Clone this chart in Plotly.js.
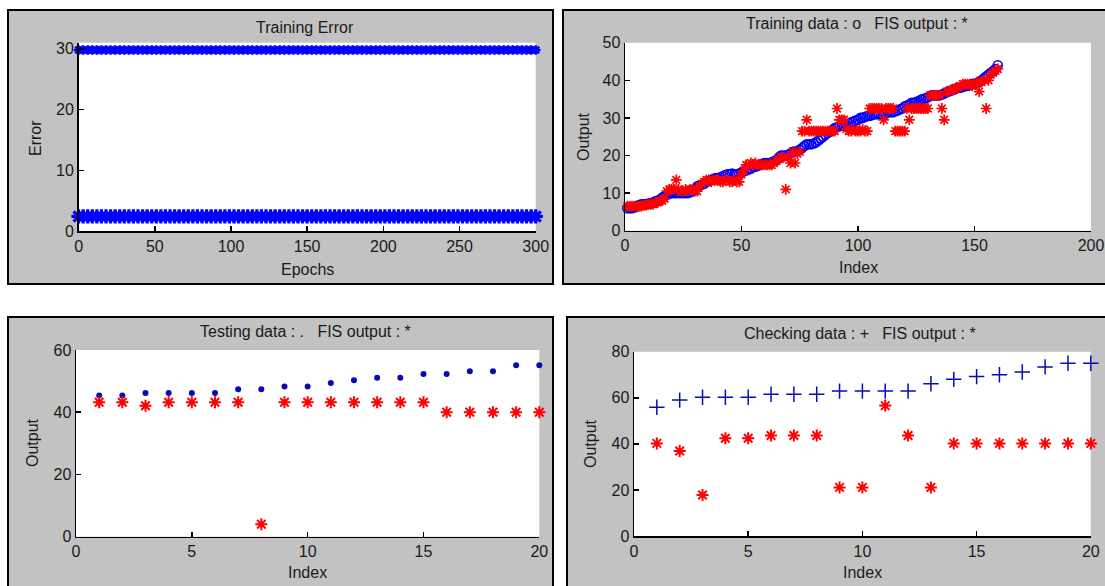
<!DOCTYPE html>
<html>
<head>
<meta charset="utf-8">
<script src="https://cdn.plot.ly/plotly-3.0.1.min.js"></script>
<style>
  html, body { margin: 0; padding: 0; background: #ffffff; }
  #chart { width: 1105px; height: 586px; }
</style>
</head>
<body>
<div id="chart"></div>
<script>
// ---------------- DATA ----------------
// Panel 1: Training Error (epochs sampled every 3)
const epochStep = 3;
const epochs = Array.from({length: 101}, (_, i) => i * epochStep);
const checkError = [29.8,29.8,29.8,29.8,29.8,29.8,29.8,29.8,29.8,29.8,29.8,29.8,29.8,29.8,29.8,29.8,29.8,29.8,29.8,29.8,
  29.8,29.8,29.8,29.8,29.8,29.8,29.8,29.8,29.8,29.8,29.8,29.8,29.8,29.8,29.8,29.8,29.8,29.8,29.8,29.8,
  29.8,29.8,29.8,29.8,29.8,29.8,29.8,29.8,29.8,29.8,29.8,29.8,29.8,29.8,29.8,29.8,29.8,29.8,29.8,29.8,
  29.8,29.8,29.8,29.8,29.8,29.8,29.8,29.8,29.8,29.8,29.8,29.8,29.8,29.8,29.8,29.8,29.8,29.8,29.8,29.8,
  29.8,29.8,29.8,29.8,29.8,29.8,29.8,29.8,29.8,29.8,29.8,29.8,29.8,29.8,29.8,29.8,29.8,29.8,29.8,29.8,29.8];
const trainError = [2.4,2.4,2.4,2.4,2.4,2.4,2.4,2.4,2.4,2.4,2.4,2.4,2.4,2.4,2.4,2.4,2.4,2.4,2.4,2.4,
  2.4,2.4,2.4,2.4,2.4,2.4,2.4,2.4,2.4,2.4,2.4,2.4,2.4,2.4,2.4,2.4,2.4,2.4,2.4,2.4,
  2.4,2.4,2.4,2.4,2.4,2.4,2.4,2.4,2.4,2.4,2.4,2.4,2.4,2.4,2.4,2.4,2.4,2.4,2.4,2.4,
  2.4,2.4,2.4,2.4,2.4,2.4,2.4,2.4,2.4,2.4,2.4,2.4,2.4,2.4,2.4,2.4,2.4,2.4,2.4,2.4,
  2.4,2.4,2.4,2.4,2.4,2.4,2.4,2.4,2.4,2.4,2.4,2.4,2.4,2.4,2.4,2.4,2.4,2.4,2.4,2.4,2.4];

// Panel 2: Training data (o) and FIS output (*), index 1..160
const trainIndex = Array.from({length: 160}, (_, i) => i + 1);
const trainData = [
  6.0,6.0,6.0,6.2,
  6.5,6.8,7.0,7.0,7.0,7.2,
  7.3,7.5,7.8,8.0,8.3,
  8.8,9.2,9.6,
  9.8,10,10,10,10,10,10,10,10,10.2,10.5,11,
  11.8,12,12.3,12.5,13,
  13.2,13.5,13.8,14,14,14.2,14.5,14.8,15,15,15.2,15,15,15.2,15.5,
  15.8,16,16.3,16.5,17,
  17,17.3,17.5,17.8,18,18,18,18.2,18.5,18.8,
  19.5,20,20,20,20.2,
  20.5,21,21,21.2,21.5,
  22,22.5,23,23,23,
  23.2,23.5,24,24.5,25,
  25.5,26,26.3,26.8,27.3,
  27.5,27.8,28,28,28.2,
  28.5,28.8,29,29.3,29.5,
  30,30,30.3,30.5,30.5,30.8,31,31,31,31,
  31,31.2,31.5,31.5,31.5,31.8,32,32.3,32.5,33,
  33.3,33.5,34,34,34.2,34.5,34.8,35,35.2,35.5,
  35.8,36,36,36,36,
  36.2,36.5,36.8,37,37.3,37.5,37.8,38,38,38.2,
  38.5,38.5,38.8,39,39,39.2,39.5,
  40,40.5,41,41.5,42,42.5,43,44];
const trainFis = [
  6.5,6.5,6.5,6.5,6.5,6.5,6.5,6.8,6.8,7,7,7,
  7.5,7.5,8,8,8.5,
  10.5,11,11,11,13.5,11,10.5,10.5,11,10.5,11,11,10.5,10.5,
  12,12.5,13,13.5,13.5,
  13,13.5,13.5,13.5,13,13,13.5,13.5,13,13,13.5,13,13,
  15,16,17.5,
  17.5,18,17.5,18,17.5,17.5,17.5,17.5,17.5,17.5,17.5,18,
  18.5,19,19.5,19.5,
  11,19.5,18,21,18,20.5,21,
  26.5,26.5,29.5,
  26.5,26.5,26.5,26.5,26.5,26.5,26.5,26.5,26.5,26.5,26.5,26.5,
  32.5,29.5,29.5,29.5,27,
  26.5,26.5,27,26.5,26.5,26.5,27,26.5,26.5,
  32.5,32.5,32.5,32.5,32.5,32.5,29.5,32.5,32.5,32.5,32.5,
  26.5,26.5,26.5,26.5,26.5,
  32.5,29.5,32.5,32.5,32.5,32.5,32.5,32.5,32.5,32.5,
  36,36,36,36,36,
  32.5,29.5,
  37,37,37.5,37.5,38,38,38.5,39,39,39,39,38.5,39,39.5,
  37,39.5,40,32.5,40,
  41.5,42,42.5,43];

// Panel 3: Testing data (.) and FIS output (*)
const testIndex = [1,2,3,4,5,6,7,8,9,10,11,12,13,14,15,16,17,18,19,20];
const testData = [45.4,45.4,46.2,46.2,46.2,46.2,47.4,47.4,48.3,48.3,49.4,50.3,51.1,51.1,52.3,52.3,53.2,53.2,55.1,55.1];
const testFis  = [43.2,43.2,42.1,43.2,43.2,43.2,43.2,4.0,43.2,43.2,43.2,43.2,43.2,43.2,43.2,40.0,40.0,40.0,40.0,40.0];

// Panel 4: Checking data (+) and FIS output (*)
const checkIndex = [1,2,3,4,5,6,7,8,9,10,11,12,13,14,15,16,17,18,19,20];
const checkData = [55.9,59.0,60.2,60.2,60.2,61.5,61.5,61.5,62.9,62.9,62.9,62.9,66.1,68.0,69.2,70.0,71.2,73.4,75.0,75.0];
const checkFis  = [40.2,36.9,17.8,42.4,42.4,43.6,43.6,43.6,21.1,21.1,56.6,43.6,21.1,40.2,40.2,40.2,40.2,40.2,40.2,40.2];

// Text
const titles = ['Training Error', 'Training data : o\u00a0\u00a0\u00a0FIS output : *',
                'Testing data : .\u00a0\u00a0\u00a0FIS output : *', 'Checking data : +\u00a0\u00a0\u00a0FIS output : *'];

// ---------------- LAYOUT HELPERS ----------------
const W = 1105, H = 586;
const px = v => v / W;
const py = v => 1 - v / H;

const FONT = 'Liberation Sans, Arial, sans-serif';
const TXT = '#1a1a1a';
const BLUE = '#0000ff';
const DBLUE = '#0a0ab4';
const RED = '#ff0000';

function axis(domain, range, dtick) {
  return {
    domain: domain, range: range, dtick: dtick, tick0: 0,
    showgrid: false, zeroline: false, showline: true, linecolor: '#000', linewidth: 1.5,
    ticks: 'inside', ticklen: 5, tickwidth: 1.5, tickcolor: '#000', mirror: false,
    tickfont: {family: FONT, size: 16, color: TXT}, fixedrange: true
  };
}

const traces = [
  {x: epochs, y: checkError, xaxis: 'x', yaxis: 'y', mode: 'markers', cliponaxis: false,
   marker: {symbol: 'asterisk-open', size: 8, color: BLUE, line: {color: BLUE, width: 2.5}}},
  {x: epochs, y: trainError, xaxis: 'x', yaxis: 'y', mode: 'markers', cliponaxis: false,
   marker: {symbol: 'asterisk-open', size: 12, color: BLUE, line: {color: BLUE, width: 3.2}}},

  {x: trainIndex, y: trainData, xaxis: 'x2', yaxis: 'y2', mode: 'markers', cliponaxis: false,
   marker: {symbol: 'circle-open', size: 9, color: BLUE, line: {color: BLUE, width: 1.6}}},
  {x: trainIndex, y: trainFis, xaxis: 'x2', yaxis: 'y2', mode: 'markers', cliponaxis: false,
   marker: {symbol: 'asterisk-open', size: 9, color: RED, line: {color: RED, width: 1.7}}},

  {x: testIndex, y: testData, xaxis: 'x3', yaxis: 'y3', mode: 'markers', cliponaxis: false,
   marker: {symbol: 'circle', size: 6, color: DBLUE}},
  {x: testIndex, y: testFis, xaxis: 'x3', yaxis: 'y3', mode: 'markers', cliponaxis: false,
   marker: {symbol: 'asterisk-open', size: 10, color: RED, line: {color: RED, width: 2}}},

  {x: checkIndex, y: checkData, xaxis: 'x4', yaxis: 'y4', mode: 'markers', cliponaxis: false,
   marker: {symbol: 'cross-thin-open', size: 11, color: DBLUE, line: {color: DBLUE, width: 1.5}}},
  {x: checkIndex, y: checkFis, xaxis: 'x4', yaxis: 'y4', mode: 'markers', cliponaxis: false,
   marker: {symbol: 'asterisk-open', size: 10, color: RED, line: {color: RED, width: 2}}}
];

// panel frames (pixel boxes)
const panels = [
  [8, 10, 553, 284],
  [563, 10, 1112, 284],
  [8, 317, 553, 594],
  [567, 317, 1112, 594]
];
const shapes = [];
panels.forEach(p => {
  shapes.push({type: 'rect', xref: 'paper', yref: 'paper', layer: 'below',
    x0: px(p[0]), x1: px(p[2]), y0: py(p[3]), y1: py(p[1]),
    fillcolor: '#c2c2c2', line: {color: '#000', width: 2}});
});
['x', 'x2', 'x3', 'x4'].forEach((xa, i) => {
  const ya = ['y', 'y2', 'y3', 'y4'][i];
  shapes.push({type: 'rect', xref: xa + ' domain', yref: ya + ' domain', layer: 'below',
    x0: 0, x1: 1, y0: 0, y1: 1, fillcolor: '#ffffff', line: {width: 0}});
});

function ann(text, x, y, rot) {
  return {text: text, xref: 'paper', yref: 'paper', x: px(x), y: py(y),
    xanchor: 'center', yanchor: 'middle', showarrow: false, textangle: rot || 0,
    font: {family: FONT, size: 16, color: TXT}};
}

const annotations = [
  ann(titles[0], 305, 27),
  ann('Epochs', 307, 269),
  ann('Error', 36, 138, -90),
  ann(titles[1], 857, 24),
  ann('Index', 858, 267),
  ann('Output', 583, 137, -90),
  ann(titles[2], 305, 331),
  ann('Index', 307, 572),
  ann('Output', 32, 443, -90),
  ann(titles[3], 860, 333),
  ann('Index', 862, 572),
  ann('Output', 591, 444, -90)
];

const layout = {
  width: W, height: H,
  margin: {l: 0, r: 0, t: 0, b: 0},
  paper_bgcolor: '#ffffff', plot_bgcolor: '#ffffff',
  showlegend: false,
  font: {family: FONT, size: 16, color: TXT},
  xaxis:  Object.assign(axis([px(78.6), px(535.7)], [0, 300], 50), {anchor: 'y'}),
  yaxis:  Object.assign(axis([1 - 231 / H, 1 - 42.7 / H], [0, 31], 10), {anchor: 'x'}),
  xaxis2: Object.assign(axis([px(625), px(1091)], [0, 200], 50), {anchor: 'y2'}),
  yaxis2: Object.assign(axis([1 - 230.7 / H, 1 - 42.7 / H], [0, 50], 10), {anchor: 'x2'}),
  xaxis3: Object.assign(axis([px(76), px(539.3)], [0, 20], 5), {anchor: 'y3'}),
  yaxis3: Object.assign(axis([1 - 536.7 / H, 1 - 350 / H], [0, 60], 20), {anchor: 'x3'}),
  xaxis4: Object.assign(axis([px(634), px(1090.8)], [0, 20], 5), {anchor: 'y4'}),
  yaxis4: Object.assign(axis([1 - 536 / H, 1 - 351.7 / H], [0, 80], 20), {anchor: 'x4'}),
  shapes: shapes,
  annotations: annotations
};

Plotly.newPlot('chart', traces, layout, {staticPlot: true, displayModeBar: false});
</script>
</body>
</html>
